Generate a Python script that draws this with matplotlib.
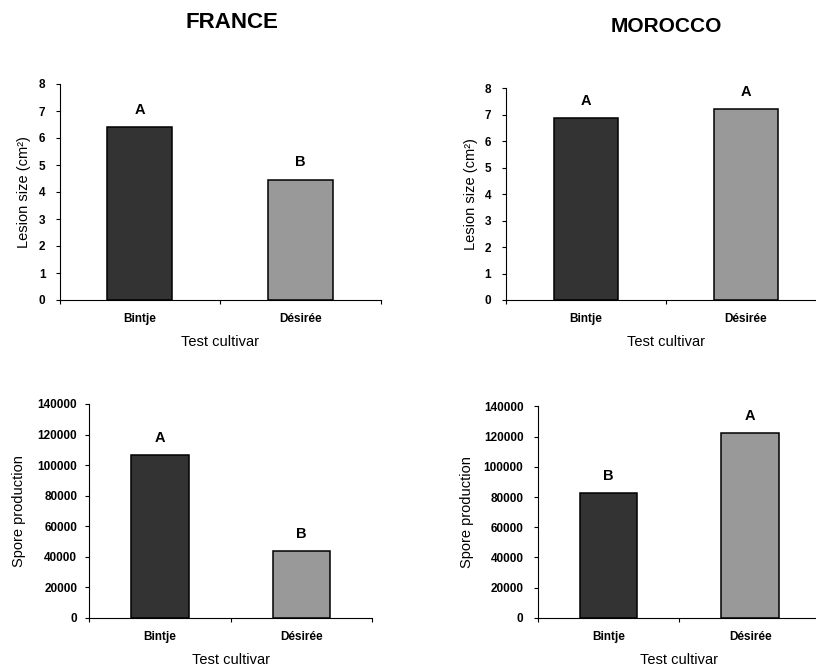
import matplotlib
matplotlib.use("Agg")
import matplotlib.pyplot as plt
from matplotlib.ticker import FixedLocator, NullFormatter, FixedFormatter

plt.rcParams['font.family'] = ['Liberation Sans', 'DejaVu Sans']

# ---- data ----
cultivars = ["Bintje", "Désirée"]
france_lesion = [6.4, 4.45]
morocco_lesion = [6.88, 7.22]
france_spore = [106500, 43500]
morocco_spore = [82500, 122500]
france_lesion_letters = ["A", "B"]
morocco_lesion_letters = ["A", "A"]
france_spore_letters = ["A", "B"]
morocco_spore_letters = ["B", "A"]
lesion_ticks = [0, 1, 2, 3, 4, 5, 6, 7, 8]
spore_ticks = [0, 20000, 40000, 60000, 80000, 100000, 120000, 140000]

bar_colors = ["#333333", "#999999"]

W, H = 816, 668
fig = plt.figure(figsize=(W / 100, H / 100), dpi=100)


def add_panel(left, right, top, bottom, values, letters, yticks, ylabel,
              ylab_x, ypad):
    ax = fig.add_axes([left / W, (H - bottom) / H, (right - left) / W,
                       (bottom - top) / H])
    x = list(range(len(cultivars)))
    ax.bar(x, values, width=0.405, color=bar_colors, edgecolor="black",
           linewidth=1.1, zorder=3)
    ax.set_xlim(-0.5, len(cultivars) - 0.5)
    ax.set_ylim(yticks[0], yticks[-1])
    ax.set_yticks(yticks)
    ax.set_yticklabels([str(t) for t in yticks], fontsize=8.5,
                       fontweight="bold")
    ax.tick_params(axis="y", direction="out", length=2.6, width=0.8,
                   pad=ypad, colors="black")
    # category boundary ticks (major), labels on minor ticks at centres
    ax.xaxis.set_major_locator(FixedLocator([-0.5, 0.5, 1.5]))
    ax.xaxis.set_major_formatter(NullFormatter())
    ax.xaxis.set_minor_locator(FixedLocator(x))
    ax.xaxis.set_minor_formatter(FixedFormatter(cultivars))
    ax.tick_params(axis="x", which="major", direction="out", length=3,
                   width=0.8)
    ax.tick_params(axis="x", which="minor", length=0, pad=9.5, labelsize=8.5)
    for lab in ax.xaxis.get_minorticklabels():
        lab.set_fontweight("bold")
    for s in ("top", "right"):
        ax.spines[s].set_visible(False)
    for s in ("left", "bottom"):
        ax.spines[s].set_linewidth(0.8)
        ax.spines[s].set_color("black")
    for xi, v, l in zip(x, values, letters):
        ax.annotate(l, (xi, v), xytext=(0, 12.5), textcoords="offset points",
                    ha="center", va="center", fontsize=10.5,
                    fontweight="bold")
    hpx = bottom - top
    wpx = right - left
    ax.set_xlabel("Test cultivar", fontsize=10.5, va="top")
    ax.xaxis.set_label_coords(0.5, -35 / hpx)
    ax.set_ylabel(ylabel, fontsize=10.5, va="center")
    ax.yaxis.set_label_coords((ylab_x - left) / wpx, 0.5)
    return ax


add_panel(59.5, 381, 84, 300, france_lesion, france_lesion_letters,
          lesion_ticks, "Lesion size (cm²)", 24, 7.5)
add_panel(506, 826, 88.3, 300, morocco_lesion, morocco_lesion_letters,
          lesion_ticks, "Lesion size (cm²)", 471.5, 8)
add_panel(89.3, 372, 404, 617.7, france_spore, france_spore_letters,
          spore_ticks, "Spore production", 19.5, 6.0)
add_panel(537.5, 821, 406.5, 617.7, morocco_spore, morocco_spore_letters,
          spore_ticks, "Spore production", 466.5, 7.5)

fig.text(231.7 / W, 1 - 22 / H, "FRANCE", ha="center", va="center",
         fontsize=16, fontweight="bold")
fig.text(666.7 / W, 1 - 26 / H, "MOROCCO", ha="center", va="center",
         fontsize=15, fontweight="bold")

fig.savefig("out.png", dpi=100)
